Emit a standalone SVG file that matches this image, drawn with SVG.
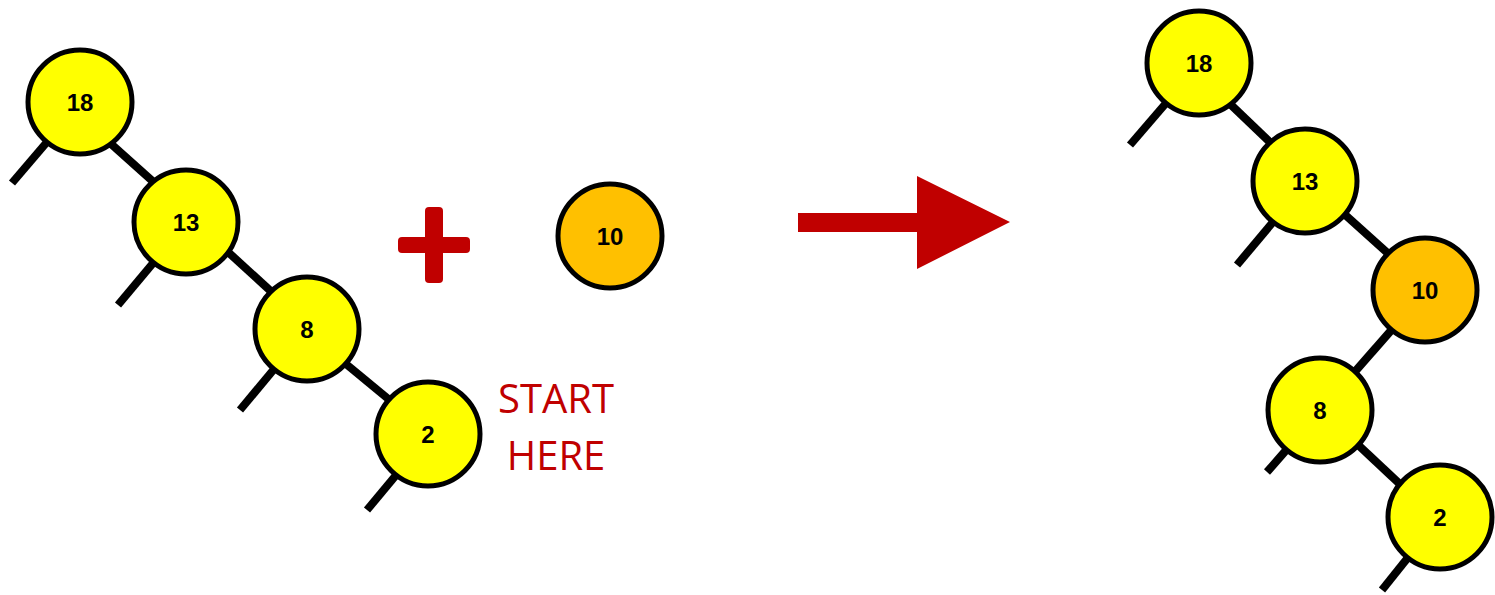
<svg xmlns="http://www.w3.org/2000/svg" width="1495" height="595" viewBox="0 0 1495 595">
<style>
.n{stroke:#000;stroke-width:5}
.y{fill:#FFFF00}
.o{fill:#FFC000}
.t{font-family:"Liberation Sans",Arial,sans-serif;font-weight:bold;font-size:24px;text-anchor:middle;fill:#000}
.e{stroke:#000;stroke-width:8;fill:none}
.red{fill:#C00000}
.lbl{font-family:"Open Sans","Liberation Sans",sans-serif;font-size:40px;fill:#C00000;text-anchor:middle}
</style>
<rect width="1495" height="595" fill="#fff"/>
<g id="connectors">
<line class="e" x1="47" y1="142" x2="12" y2="183"/>
<line class="e" x1="110" y1="143" x2="158" y2="186"/>
<line class="e" x1="154" y1="262" x2="118" y2="305"/>
<line class="e" x1="228" y1="252" x2="275" y2="295"/>
<line class="e" x1="275" y1="368" x2="240" y2="410"/>
<line class="e" x1="346" y1="364" x2="392" y2="402"/>
<line class="e" x1="397" y1="474" x2="367" y2="510"/>
<line class="e" x1="1167" y1="102" x2="1130" y2="145"/>
<line class="e" x1="1228" y1="102" x2="1275" y2="147"/>
<line class="e" x1="1273" y1="222" x2="1237" y2="265"/>
<line class="e" x1="1342" y1="212" x2="1392" y2="257"/>
<line class="e" x1="1395" y1="326" x2="1352" y2="375"/>
<line class="e" x1="1288" y1="448" x2="1267" y2="472"/>
<line class="e" x1="1355" y1="442" x2="1403" y2="487"/>
<line class="e" x1="1410" y1="555" x2="1382" y2="590"/>
</g>
<g id="n18a"><circle class="n y" cx="80" cy="102" r="52"/><text class="t" x="80" y="111">18</text></g>
<g id="n13a"><circle class="n y" cx="186" cy="222" r="52"/><text class="t" x="186" y="231">13</text></g>
<g id="n8a"><circle class="n y" cx="307" cy="329" r="52"/><text class="t" x="307" y="338">8</text></g>
<g id="n2a"><circle class="n y" cx="428" cy="434" r="52"/><text class="t" x="428" y="443">2</text></g>
<g id="n10a"><circle class="n o" cx="610" cy="236" r="52"/><text class="t" x="610" y="245">10</text></g>
<g id="plus" class="red">
<rect x="398" y="237" width="72" height="16" rx="4"/>
<rect x="425" y="207" width="18" height="76" rx="4"/>
</g>
<g id="start-label"><text class="lbl" x="556" y="413">START</text><text class="lbl" x="556" y="470">HERE</text></g>
<g id="arrow"><polygon class="red" points="798,213 917,213 917,176 1010,222 917,269 917,232 798,232"/></g>
<g id="n18b"><circle class="n y" cx="1199" cy="63" r="52"/><text class="t" x="1199" y="72">18</text></g>
<g id="n13b"><circle class="n y" cx="1305" cy="181" r="52"/><text class="t" x="1305" y="190">13</text></g>
<g id="n10b"><circle class="n o" cx="1425" cy="290" r="52"/><text class="t" x="1425" y="299">10</text></g>
<g id="n8b"><circle class="n y" cx="1320" cy="410" r="52"/><text class="t" x="1320" y="419">8</text></g>
<g id="n2b"><circle class="n y" cx="1440" cy="517" r="52"/><text class="t" x="1440" y="526">2</text></g>
</svg>
